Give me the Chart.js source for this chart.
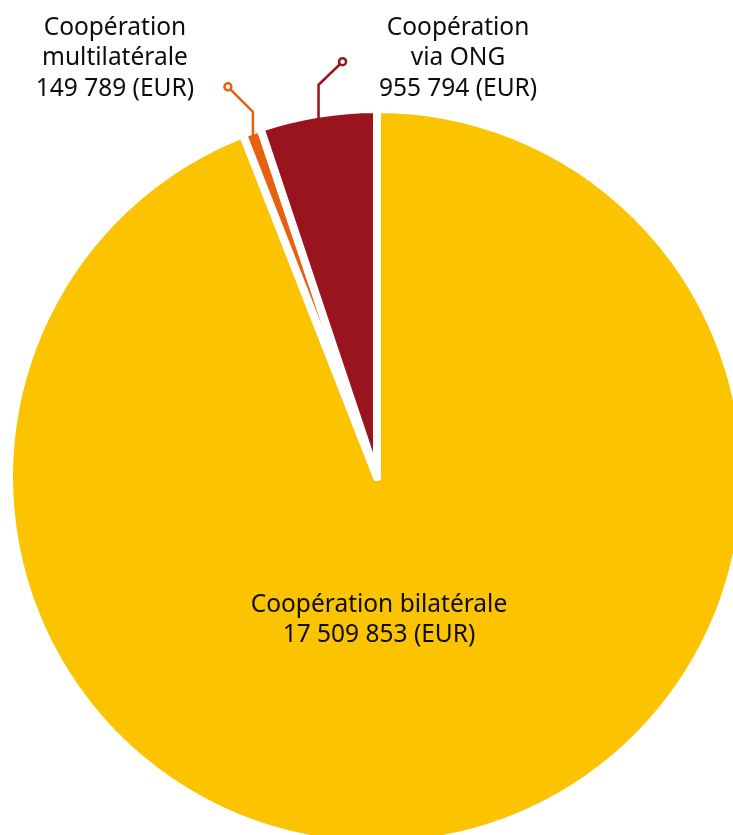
<!DOCTYPE html>
<html lang="fr">
<head>
<meta charset="utf-8">
<title>Répartition de la coopération</title>
<script src="https://cdn.jsdelivr.net/npm/chart.js@4/dist/chart.umd.min.js"></script>
<style>
  html, body { margin: 0; padding: 0; background: #ffffff; overflow: hidden; }
  #wrap { position: relative; width: 733px; height: 835px; }
</style>
</head>
<body>
<div id="wrap"><canvas id="pie" width="733" height="835"></canvas></div>
<script>
// Categories, amounts (EUR) and slice colours
const categories = ['Coopération bilatérale', 'Coopération multilatérale', 'Coopération via ONG'];
const amounts = [17509853, 149789, 955794];
const sliceColors = ['#FBC300', '#E8610E', '#9A141E'];
// Text lines of each label (the amount line is appended from `amounts`)
const labelHeads = [
  ['Coopération bilatérale'],
  ['Coopération', 'multilatérale'],
  ['Coopération', 'via ONG']
];
const currency = 'EUR';

function formatAmount(v) {
  return String(v).replace(/\B(?=(\d{3})+(?!\d))/g, ' ') + ' (' + currency + ')';
}

// Draws the slice labels, with leader lines for the thin slices
const sliceLabels = {
  id: 'sliceLabels',
  afterDatasetsDraw(chart, args, opts) {
    const ctx = chart.ctx;
    const arcs = chart.getDatasetMeta(0).data;
    ctx.save();
    ctx.font = opts.font;
    ctx.fillStyle = opts.color;
    ctx.textAlign = 'center';
    ctx.textBaseline = 'middle';
    arcs.forEach((arc, i) => {
      const lines = labelHeads[i].concat([formatAmount(amounts[i])]);
      const cfg = opts.layout[i];
      const mid = (arc.startAngle + arc.endAngle) / 2;
      const r = arc.outerRadius - opts.inset;
      let anchorX, anchorY;
      if (cfg.leader) {
        // point on the visible rim at the middle of the slice
        const px = arc.x + Math.cos(mid) * r;
        const py = arc.y + Math.sin(mid) * r;
        const ey = py - cfg.leader.rise;
        const tx = px + cfg.leader.dx;
        const ty = ey + cfg.leader.dy;
        ctx.strokeStyle = sliceColors[i];
        ctx.lineWidth = 2.5;
        ctx.lineJoin = 'miter';
        ctx.beginPath();
        ctx.moveTo(px, py + 2);
        ctx.lineTo(px, ey);
        ctx.lineTo(tx, ty);
        ctx.stroke();
        ctx.beginPath();
        ctx.arc(tx, ty, 3.5, 0, Math.PI * 2);
        ctx.fillStyle = '#ffffff';
        ctx.fill();
        ctx.stroke();
        ctx.fillStyle = opts.color;
        anchorX = tx; anchorY = ty;
      } else {
        anchorX = arc.x; anchorY = arc.y;
      }
      const x0 = anchorX + cfg.dx;
      const y0 = anchorY + cfg.dy;
      lines.forEach((t, k) => ctx.fillText(t, x0, y0 + k * opts.lineHeight));
    });
    ctx.restore();
  }
};

new Chart(document.getElementById('pie'), {
  type: 'pie',
  data: {
    labels: categories,
    datasets: [{
      data: amounts,
      backgroundColor: sliceColors,
      borderColor: '#ffffff',
      borderWidth: 8,
      borderJoinStyle: 'round',
      hoverOffset: 0
    }]
  },
  options: {
    responsive: false,
    animation: false,
    radius: 368,
    layout: { padding: { left: 21, top: 119, right: 0, bottom: 0 } },
    plugins: {
      legend: { display: false },
      tooltip: { enabled: false },
      sliceLabels: {
        font: '24.5px "Noto Sans", "Open Sans", sans-serif',
        color: '#0d0d0d',
        lineHeight: 30.5,
        inset: 4,
        layout: [
          { dx: 2, dy: 128 },
          { leader: { rise: 23, dx: -25, dy: -25 }, dx: -113, dy: -59 },
          { leader: { rise: 33, dx: 24, dy: -23 }, dx: 115.5, dy: -34 }
        ]
      }
    }
  },
  plugins: [sliceLabels]
});
</script>
</body>
</html>
